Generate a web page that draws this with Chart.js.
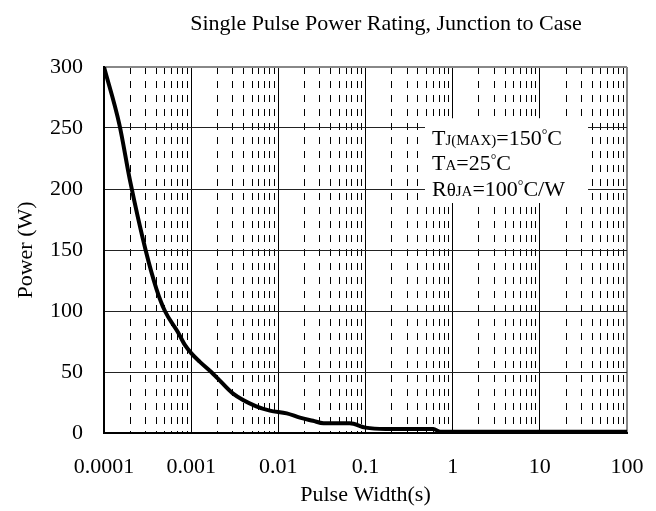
<!DOCTYPE html>
<html>
<head>
<meta charset="utf-8">
<script src="https://cdn.jsdelivr.net/npm/chart.js@4"></script>
<style>
  html, body { margin: 0; padding: 0; background: #fff; }
</style>
</head>
<body>
<canvas id="chart" width="656" height="511"></canvas>
<script>
// data
const pulseWidth = [0.0001, 0.00015, 0.0002, 0.0003, 0.0004, 0.0005, 0.0007, 0.00085, 0.001, 0.00125,
    0.0017, 0.002, 0.003, 0.0055, 0.008, 0.0125, 0.0177, 0.025, 0.033, 0.066, 0.1, 0.17, 0.6, 0.72, 1, 10, 100];
const powerW = [300, 253, 206, 150, 118, 100, 83, 72, 65.5, 58.5,
    50, 45, 32.5, 22, 18.3, 16.1, 12.6, 10, 8, 8, 4.4, 3.3, 3.3, 1, 1, 1, 1];

const xDecades = [0.0001, 0.001, 0.01, 0.1, 1, 10, 100];
const xTickLabels = ['0.0001', '0.001', '0.01', '0.1', '1', '10', '100'];
const yTicks = [0, 50, 100, 150, 200, 250, 300];

const titleText = 'Single Pulse Power Rating, Junction to Case';
// each note line: [text, size, raise]
const noteLines = [
    [['T', 22, 0], ['J(MAX)', 15, 0], ['=150', 22, 0], ['°', 14, 6], ['C', 22, 0]],
    [['T', 22, 0], ['A', 15, 0], ['=25', 22, 0], ['°', 14, 6], ['C', 22, 0]],
    [['R', 22, 0], ['θ', 19, 0], ['JA', 15, 0], ['=100', 22, 0], ['°', 14, 6], ['C/W', 22, 0]]
];

// all grid positions for the log axis: 1..9 in every decade
const xGrid = [];
xDecades.forEach((d, i) => {
    xGrid.push(d);
    if (i < xDecades.length - 1) {
        for (let m = 2; m <= 9; m++) xGrid.push(Number((m * d).toPrecision(6)));
    }
});

function same(a, b) { return Math.abs(a / b - 1) < 1e-6; }
function isDecade(v) { return xDecades.some(d => same(v, d)); }

Chart.defaults.font.family = '"Liberation Serif", "Times New Roman", serif';
Chart.defaults.font.size = 22;
Chart.defaults.color = '#000';

const fontFam = '"Liberation Serif", "Times New Roman", serif';

const titlePlugin = {
    id: 'topTitle',
    afterDraw(chart) {
        const c = chart.ctx;
        c.save();
        c.fillStyle = '#000';
        c.font = '22px ' + fontFam;
        c.textAlign = 'center';
        c.textBaseline = 'alphabetic';
        c.fillText(titleText, 386, 30);
        c.restore();
    }
};

const notePlugin = {
    id: 'noteBox',
    beforeDatasetsDraw(chart) {
        const c = chart.ctx;
        const a = chart.chartArea;
        const y = chart.scales.y;
        c.save();
        c.fillStyle = '#fff';
        c.fillRect(a.left + 321, y.getPixelForValue(258), 163, y.getPixelForValue(188.5) - y.getPixelForValue(258));
        c.fillStyle = '#000';
        c.textBaseline = 'alphabetic';
        const rowVals = [242, 221, 200];
        noteLines.forEach((line, i) => {
            let x = a.left + 328;
            const base = y.getPixelForValue(rowVals[i]) + 7;
            line.forEach(([txt, size, raise]) => {
                c.font = size + 'px ' + fontFam;
                c.fillText(txt, x, base - raise);
                x += c.measureText(txt).width;
            });
        });
        c.restore();
    }
};

new Chart(document.getElementById('chart'), {
    type: 'line',
    data: {
        datasets: [{
            data: pulseWidth.map((x, i) => ({ x: x, y: powerW[i] })),
            borderColor: '#000',
            borderWidth: 4,
            pointRadius: 0,
            fill: false,
            cubicInterpolationMode: 'monotone'
        }]
    },
    options: {
        responsive: false,
        animation: false,
        devicePixelRatio: 1,
        layout: { padding: { top: 67, right: 29, left: 0, bottom: 0 } },
        plugins: {
            legend: { display: false },
            title: { display: false },
            tooltip: { enabled: false }
        },
        scales: {
            x: {
                type: 'logarithmic',
                min: 0.0001,
                max: 100,
                afterFit(s) {
                    s.height = 78;
                    s.paddingLeft = 0;
                    s.paddingRight = 0;
                },
                afterBuildTicks(s) { s.ticks = xGrid.map(v => ({ value: v })); },
                ticks: {
                    autoSkip: false,
                    maxRotation: 0,
                    minRotation: 0,
                    padding: 21,
                    callback: (v) => {
                        const k = xDecades.findIndex(d => same(v, d));
                        return k >= 0 ? xTickLabels[k] : '';
                    }
                },
                grid: {
                    drawTicks: false,
                    color: c => (c.tick && same(c.tick.value, 100)) ? '#888' : '#000',
                    lineWidth: c => (c.tick && same(c.tick.value, 100)) ? 2 : 1
                },
                border: {
                    color: '#000',
                    width: 2,
                    dash: c => (c.tick && !isDecade(c.tick.value)) ? [7, 7] : []
                },
                title: {
                    display: true,
                    text: 'Pulse Width(s)',
                    padding: { top: 0, bottom: 3 }
                }
            },
            y: {
                min: 0,
                max: 300,
                afterFit(s) {
                    s.width = 104;
                    s.paddingTop = 0;
                    s.paddingBottom = 0;
                },
                afterBuildTicks(s) { s.ticks = yTicks.map(v => ({ value: v })); },
                ticks: { padding: 21 },
                grid: {
                    drawTicks: false,
                    color: c => (c.tick && c.tick.value === 300) ? '#888' : '#222',
                    lineWidth: c => (c.tick && c.tick.value === 300) ? 2 : 1
                },
                border: { color: '#000', width: 2 },
                title: {
                    display: true,
                    text: 'Power (W)',
                    padding: { top: 13, bottom: 0 }
                }
            }
        }
    },
    plugins: [titlePlugin, notePlugin]
});
</script>
</body>
</html>
